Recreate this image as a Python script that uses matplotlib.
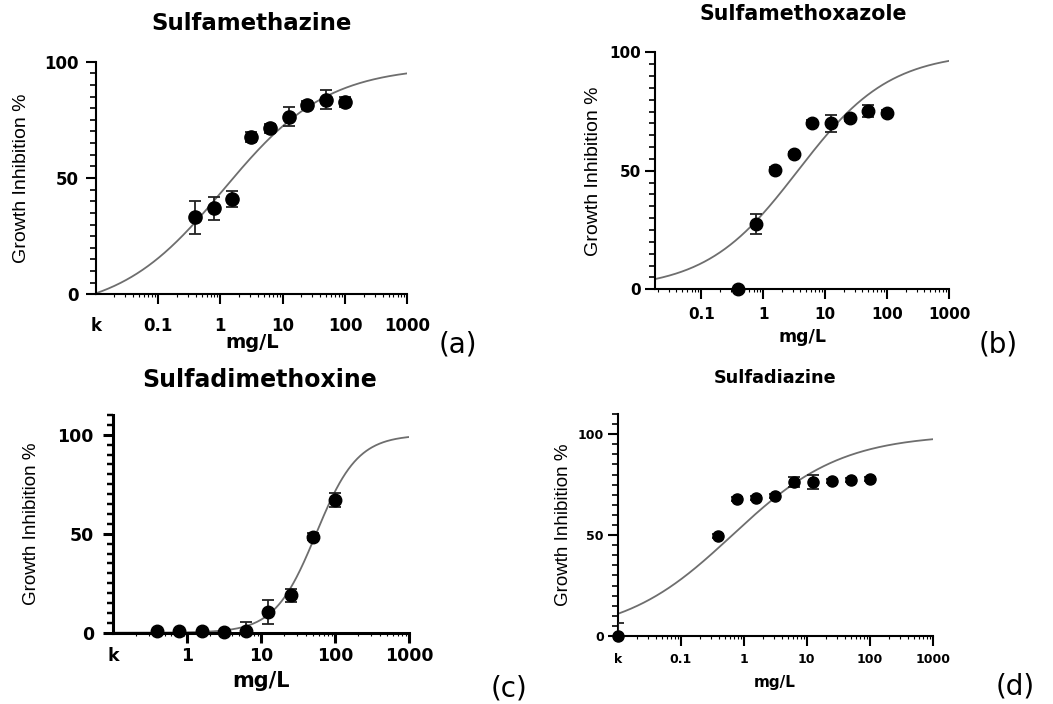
import numpy as np
import matplotlib
matplotlib.use("Agg")
import matplotlib.pyplot as plt
from matplotlib.ticker import LogLocator, MultipleLocator, NullFormatter, FixedLocator, FixedFormatter

plt.rcParams['font.family'] = ['Liberation Sans', 'DejaVu Sans']

# concentrations (mg/L), k = control drawn at left edge
conc = [0.39, 0.78, 1.56, 3.125, 6.25, 12.5, 25, 50, 100]

# (a) Sulfamethazine
smz_y = [33.1, 37.0, 40.8, 67.5, 71.3, 76.4, 81.5, 83.7, 82.8]
smz_err = [7.0, 5.0, 3.4, 2.2, 2.0, 4.2, 1.8, 4.0, 2.2]
smz_fit = [-8, 98, 1.12, 0.52]          # bottom, top, EC50, hill

# (b) Sulfamethoxazole
smx_y = [0.0, 27.6, 50.4, 57.1, 70.3, 70.0, 72.2, 75.2, 74.5]
smx_err = [0.5, 4.2, 1.0, 1.0, 1.0, 3.5, 1.0, 2.5, 1.0]
smx_fit = [0, 100, 3.63, 0.584]

# (c) Sulfadimethoxine
sdm_y = [1.0, 1.0, 1.0, 0.5, 1.0, 10.6, 18.9, 48.6, 67.1]
sdm_err = [0.5, 0.5, 0.5, 0.5, 4.5, 6.0, 3.2, 1.8, 3.5]
sdm_fit = [0, 100, 55.0, 1.55]

# (d) Sulfadiazine (first point = control k)
sdz_x = [0.01] + conc
sdz_y = [0.0, 49.4, 67.7, 68.2, 69.3, 76.3, 76.5, 76.8, 77.1, 77.6]
sdz_err = [6.3, 1.0, 1.0, 1.0, 1.0, 2.5, 3.5, 1.0, 1.0, 1.0]
sdz_fit = [0, 100, 0.66, 0.5]

W, H = 1053, 704
fig = plt.figure(figsize=(W / 100, H / 100), dpi=100)


def rect(l, r, t, b):
    return [l / W, 1 - b / H, (r - l) / W, (b - t) / H]


def ftext(x, y, s, **kw):
    fig.text(x / W, 1 - y / H, s, ha='center', va='center', **kw)


panels = [
    dict(title='Sulfamethazine', rect=rect(95.7, 407.3, 61.7, 294.3), x=conc, y=smz_y, err=smz_err,
         fit=smz_fit, xlim=(0.01, 1000), ylim=(0, 100),
         xt=[0.01, 0.1, 1, 10, 100, 1000], xtl=['k', '0.1', '1', '10', '100', '1000'], hide_first=True,
         tfs=16.5, tpos=(252, 23), kfs=12, lw=1.5, ms=9.5,
         ylab=(22, 178, 14), xlab=(252, 342, 14), tag=('(a)', 458, 345), xpad=9, ypad=5),
    dict(title='Sulfamethoxazole', rect=rect(655, 949, 52.3, 289.3), x=conc, y=smx_y, err=smx_err,
         fit=smx_fit, xlim=(0.018, 1000), ylim=(0, 100),
         xt=[0.1, 1, 10, 100, 1000], xtl=['0.1', '1', '10', '100', '1000'], hide_first=False,
         tfs=14.8, tpos=(803, 14), kfs=11, lw=1.5, ms=9,
         ylab=(593, 171, 14), xlab=(802, 337, 12.5), tag=('(b)', 998, 344), xpad=6, ypad=3),
    dict(title='Sulfadimethoxine', rect=rect(113.3, 409.3, 415, 632.7), x=conc, y=sdm_y, err=sdm_err,
         fit=sdm_fit, xlim=(0.1, 1000), ylim=(0, 110),
         xt=[0.1, 1, 10, 100, 1000], xtl=['k', '1', '10', '100', '1000'], hide_first=True,
         tfs=17, tpos=(260, 380), kfs=12.5, lw=2.2, ms=9,
         ylab=(32, 524, 13.5), xlab=(261, 681, 15), tag=('(c)', 509, 688), xpad=3, ypad=7),
    dict(title='Sulfadiazine', rect=rect(617.7, 932.7, 414, 636), x=sdz_x, y=sdz_y, err=sdz_err,
         fit=sdz_fit, xlim=(0.01, 1000), ylim=(0, 110),
         xt=[0.01, 0.1, 1, 10, 100, 1000], xtl=['k', '0.1', '1', '10', '100', '1000'], hide_first=True,
         tfs=12.7, tpos=(775, 378), kfs=9, lw=1.5, ms=8,
         ylab=(563, 525, 13.5), xlab=(775, 683, 11), tag=('(d)', 1015, 686), xpad=5, ypad=3),
]

for p in panels:
    ax = fig.add_axes(p['rect'])
    ax.set_xscale('log')
    ax.set_xlim(*p['xlim'])
    ax.set_ylim(*p['ylim'])

    bottom, top, ec50, hill = p['fit']
    xf = np.logspace(np.log10(p['xlim'][0]), 3, 400)
    yf = bottom + (top - bottom) / (1 + (ec50 / xf) ** hill)
    ax.plot(xf, yf, color='#6e6e6e', lw=1.3, zorder=2)

    ax.errorbar(p['x'], p['y'], yerr=p['err'], fmt='none', ecolor='#222222',
                elinewidth=1.3, capsize=4.5, capthick=1.3, zorder=3)
    ax.plot(p['x'], p['y'], 'o', color='black', ms=p['ms'], zorder=4, clip_on=False)

    for s in ['top', 'right']:
        ax.spines[s].set_visible(False)
    for s in ['left', 'bottom']:
        ax.spines[s].set_linewidth(p['lw'])

    ax.xaxis.set_major_locator(FixedLocator(p['xt']))
    ax.xaxis.set_major_formatter(FixedFormatter(p['xtl']))
    ax.xaxis.set_minor_locator(LogLocator(base=10, subs=np.arange(2, 10)))
    ax.xaxis.set_minor_formatter(NullFormatter())
    ax.yaxis.set_major_locator(FixedLocator([0, 50, 100]))
    ax.yaxis.set_minor_locator(MultipleLocator(5))

    ax.tick_params(axis='both', which='major', length=7, width=p['lw'], labelsize=p['kfs'])
    ax.tick_params(axis='x', which='major', pad=p['xpad'])
    ax.tick_params(axis='y', which='major', pad=p['ypad'])
    ax.tick_params(axis='y', which='minor', length=4, width=p['lw'] * 0.8)
    ax.tick_params(axis='x', which='minor', length=2, width=0.8)
    for lab in ax.get_xticklabels() + ax.get_yticklabels():
        lab.set_fontweight('bold')
        lab.set_fontfamily('DejaVu Sans')
    if p['hide_first']:
        ax.xaxis.get_major_ticks()[0].tick1line.set_visible(False)

    ftext(p['tpos'][0], p['tpos'][1], p['title'], fontsize=p['tfs'], fontweight='bold', family='DejaVu Sans')
    ftext(p['ylab'][0], p['ylab'][1], 'Growth Inhibition %', fontsize=p['ylab'][2], rotation=90)
    ftext(p['xlab'][0], p['xlab'][1], 'mg/L', fontsize=p['xlab'][2], fontweight='bold', family='DejaVu Sans')
    ftext(p['tag'][1], p['tag'][2], p['tag'][0], fontsize=20, family='DejaVu Sans')

fig.savefig('out.png', dpi=100)
